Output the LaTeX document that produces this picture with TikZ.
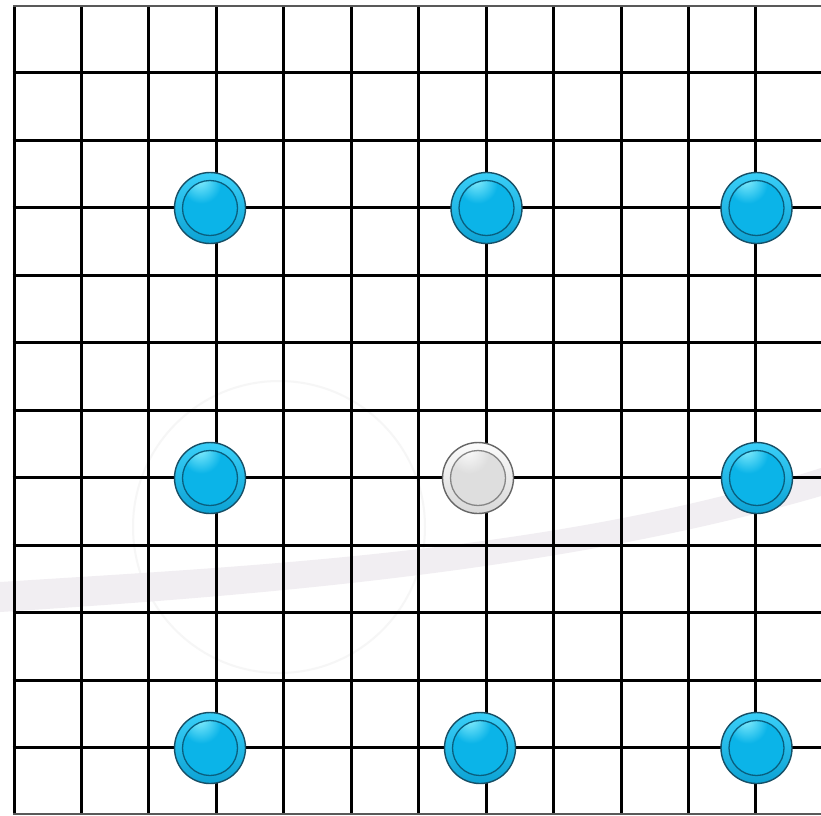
\documentclass[tikz,border=0pt]{standalone}
\usetikzlibrary{calc}
\definecolor{bedge}{HTML}{164F66}
\definecolor{bringt}{HTML}{3ACFF8}
\definecolor{bringb}{HTML}{0CA2D4}
\definecolor{bin}{HTML}{095E7E}
\definecolor{bhi}{HTML}{90F2FF}
\definecolor{bmid}{HTML}{0BB4E8}
\definecolor{bdark}{HTML}{077FAC}
\definecolor{wedge}{HTML}{666666}
\definecolor{wringt}{HTML}{FCFCFC}
\definecolor{wringb}{HTML}{D8D8D8}
\definecolor{win}{HTML}{858585}
\definecolor{whi}{HTML}{FFFFFF}
\definecolor{wmid}{HTML}{DEDEDE}
\definecolor{wdark}{HTML}{ADADAD}
\definecolor{swoosh}{HTML}{F1EEF2}
\definecolor{wmark}{HTML}{F6F6F6}
\pgfdeclareradialshading{bluesph}{\pgfpoint{-8bp}{22bp}}{color(0bp)=(bhi); color(14bp)=(bmid); color(40bp)=(bmid); color(64bp)=(bdark)}
\pgfdeclareradialshading{whitesph}{\pgfpoint{-8bp}{22bp}}{color(0bp)=(whi); color(14bp)=(wmid); color(40bp)=(wmid); color(64bp)=(wdark)}
\tikzset{
  gridline/.style={line width=3pt, black},
  edgeline/.style={line width=2pt, black!65},
  bball/.style={circle, minimum size=71pt, inner sep=0pt, draw=bedge, line width=1.4pt,
    top color=bringt, bottom color=bringb,
    path picture={
      \shade[shading=bluesph] (path picture bounding box.center) circle (27.5pt);
      \draw[bin, line width=1.3pt] (path picture bounding box.center) circle (27.5pt);
    }},
  wball/.style={circle, minimum size=71pt, inner sep=0pt, draw=wedge, line width=1.4pt,
    top color=wringt, bottom color=wringb,
    path picture={
      \shade[shading=whitesph] (path picture bounding box.center) circle (27.5pt);
      \draw[win, line width=1.3pt] (path picture bounding box.center) circle (27.5pt);
    }},
}
\begin{document}
\begin{tikzpicture}[x=1pt, y=-1pt]
\useasboundingbox (0,0) rectangle (821,815);
\fill[white] (0,0) rectangle (821,815);
% faint watermark
\draw[wmark, line width=2pt] (279,527) circle (146);
\fill[swoosh] (0,582) .. controls (250,566) and (560,552) .. (821,468)
   -- (821,496) .. controls (560,572) and (250,596) .. (0,612) -- cycle;
% grid
\foreach \i in {0,...,11} {
  \draw[gridline] ({14+67.45*\i},5.5) -- ({14+67.45*\i},814);
}
\foreach \j in {1,...,11} {
  \draw[gridline] (12.5,{5.5+67.45*\j}) -- (821,{5.5+67.45*\j});
}
\draw[edgeline] (13,5.5) -- (821,5.5);
\draw[edgeline] (13,814) -- (821,814);
% stones
\node[bball] (b1) at (210,208) {};
\node[bball] (b2) at (486.5,208) {};
\node[bball] (b3) at (756.5,208) {};
\node[bball] (b4) at (210,478) {};
\node[wball] (w1) at (478,478) {};
\node[bball] (b5) at (757,478) {};
\node[bball] (b6) at (210,748) {};
\node[bball] (b7) at (480,748) {};
\node[bball] (b8) at (756.5,748) {};
\end{tikzpicture}
\end{document}
